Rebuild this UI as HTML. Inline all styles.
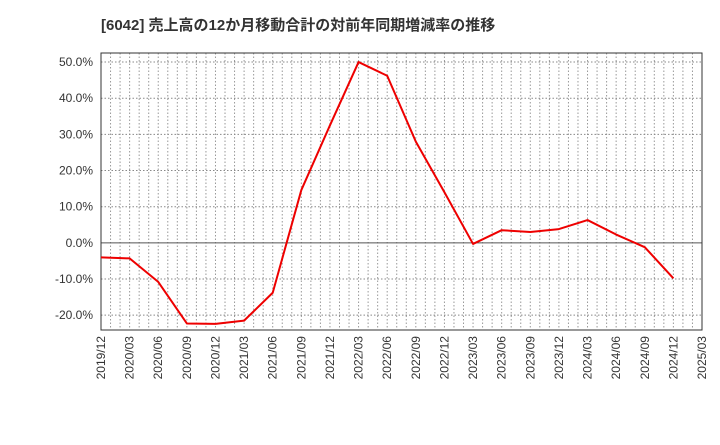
<!DOCTYPE html>
<html><head><meta charset="utf-8"><style>
body{margin:0;background:#fff;}
svg text{font-family:"Liberation Sans","Noto Sans CJK JP",sans-serif;fill:#333;}
</style></head><body>
<svg id="chart" width="720" height="440" xmlns="http://www.w3.org/2000/svg">
<text x="101" y="30" font-size="15" font-weight="bold" style="font-family:'Liberation Sans','Noto Sans CJK JP',sans-serif">[6042]  売上高の12か月移動合計の対前年同期増減率の推移</text>
<g id="grid"></g><g id="axes"></g><g id="series"></g>
</svg>
<script>
const categories=["2019/12","2020/03","2020/06","2020/09","2020/12","2021/03","2021/06","2021/09","2021/12","2022/03","2022/06","2022/09","2022/12","2023/03","2023/06","2023/09","2023/12","2024/03","2024/06","2024/09","2024/12","2025/03"];
const values=[-4.0,-4.3,-10.8,-22.3,-22.4,-21.5,-13.8,14.6,32.5,50.0,46.2,28.0,14.0,-0.3,3.5,3.0,3.8,6.3,2.3,-1.2,-9.8];
const yTicks=[-20,-10,0,10,20,30,40,50];
const L=101,R=702,T=53,B=330,yMin=-24.1,yMax=52.5;
const NS="http://www.w3.org/2000/svg";
const xs=i=>L+(R-L)*i/(categories.length-1);
const ys=v=>B-(v-yMin)/(yMax-yMin)*(B-T);
function mk(p,t,a){const e=document.createElementNS(NS,t);for(const k in a)e.setAttribute(k,a[k]);p.appendChild(e);return e;}
const g=document.getElementById('grid'),ax=document.getElementById('axes'),s=document.getElementById('series');
const months=(categories.length-1)*3;
for(let m=1;m<months;m++){const x=L+(R-L)*m/months;
const l=mk(g,'line',{x1:x,x2:x,y1:T,y2:B,stroke:'#999','stroke-width':1,'stroke-dasharray':'1.5,2'});

}
yTicks.forEach(v=>{const y=ys(v);
const l=mk(g,'line',{x1:L,x2:R,y1:y,y2:y,stroke:v===0?'#555':'#888','stroke-width':1,'stroke-dasharray':v===0?'':'1.5,2'});


const t=mk(ax,'text',{x:L-8,y:y+4,'text-anchor':'end','font-size':12});t.textContent=v.toFixed(1)+'%';

});
const fr=mk(ax,'rect',{x:L,y:T,width:R-L,height:B-T,fill:'none',stroke:'#333','stroke-width':1});


categories.forEach((c,i)=>{const x=xs(i);
const t=mk(ax,'text',{x:0,y:0,'text-anchor':'end','font-size':12,transform:`translate(${x+4},${B+6}) rotate(-90)`});t.textContent=c;

});
const pl=mk(s,'polyline',{points:values.map((v,i)=>xs(i)+','+ys(v)).join(' '),fill:'none',stroke:'#e00','stroke-width':2,'stroke-linejoin':'round'});


</script>
</body></html>
